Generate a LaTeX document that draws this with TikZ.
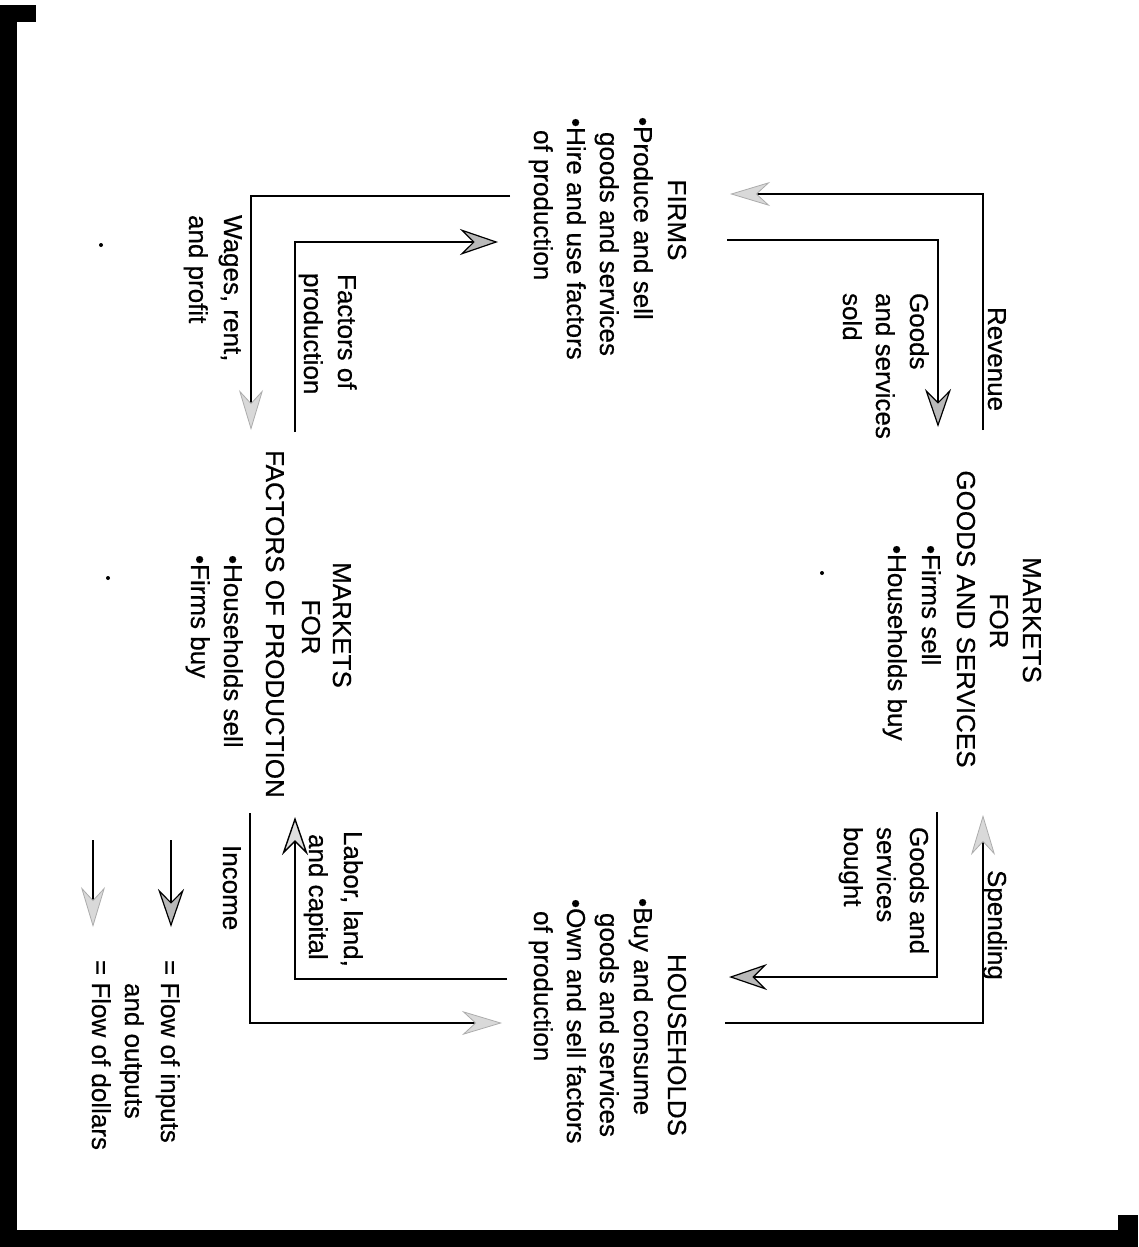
\documentclass[tikz,border=0pt]{standalone}
\usepackage{fontspec}
\setmainfont{Liberation Sans}[BoldFont={Liberation Sans},BoldFeatures={FakeBold=0.5}]
\usetikzlibrary{arrows.meta}
\tikzset{
  txt/.style={rotate=-90, inner sep=0pt, outer sep=0pt, font=\fontsize{26}{33}\selectfont\bfseries},
  flowline/.style={line width=2.8pt},
  inflow/.style={flowline, -{Stealth[length=38pt, width=26pt, inset=13pt, line width=1.2pt, fill=gray!55, color=black]}},
  inflowlight/.style={flowline, -{Stealth[length=38pt, width=26pt, inset=13pt, line width=1.4pt, fill=gray!25, color=black]}},
  dollarflow/.style={flowline, -{Stealth[length=40pt, width=24pt, inset=13pt, line width=0.8pt, fill=gray!30, color=gray!65]}},
  speck/.style={fill=black}
}
\begin{document}
\begin{tikzpicture}[x=1pt,y=-1pt]
\useasboundingbox (0,0) rectangle (1138,1247);
% frame
\fill (0,5) rectangle (36,22);
\fill (0,5) rectangle (17,1247);
\fill (0,1230) rectangle (1138,1247);
\fill (1118,1215) rectangle (1138,1247);

% FIRMS
\node[txt,anchor=base] (firms) at (668,220) {FIRMS};
\node[txt,anchor=base west] (firms1) at (634,117) {•Produce and sell};
\node[txt,anchor=base west] (firms2) at (600,132) {goods and services};
\node[txt,anchor=base west] (firms3) at (567,118) {•Hire and use factors};
\node[txt,anchor=base west] (firms4) at (534,130) {of production};

% HOUSEHOLDS
\node[txt,anchor=base] (hh) at (668,1045) {HOUSEHOLDS};
\node[txt,anchor=base west] (hh1) at (634,898) {•Buy and consume};
\node[txt,anchor=base west] (hh2) at (600,913) {goods and services};
\node[txt,anchor=base west] (hh3) at (567,899) {•Own and sell factors};
\node[txt,anchor=base west] (hh4) at (534,911) {of production};

% MARKETS FOR GOODS AND SERVICES
\node[txt,anchor=base] (mg1) at (1023,620) {MARKETS};
\node[txt,anchor=base] (mg2) at (990,621) {FOR};
\node[txt,anchor=base] (mg3) at (957,619) {GOODS AND SERVICES};
\node[txt,anchor=base west] (mg4) at (922,545) {•Firms sell};
\node[txt,anchor=base west] (mg5) at (888,545) {•Households buy};

% MARKETS FOR FACTORS OF PRODUCTION
\node[txt,anchor=base] (mf1) at (333,625) {MARKETS};
\node[txt,anchor=base] (mf2) at (302,627) {FOR};
\node[txt,anchor=base] (mf3) at (266,624) {FACTORS OF PRODUCTION};
\node[txt,anchor=base west] (mf4) at (224,555) {•Households sell};
\node[txt,anchor=base west] (mf5) at (191,555) {•Firms buy};

% flow labels
\node[txt,anchor=base west] (rev) at (988,307) {Revenue};
\node[txt,anchor=base west] (gss1) at (910,293) {Goods};
\node[txt,anchor=base west] (gss2) at (876,293) {and services};
\node[txt,anchor=base west] (gss3) at (843,293) {sold};
\node[txt,anchor=base west] (spend) at (988,870) {Spending};
\node[txt,anchor=base west] (gsb1) at (910,827) {Goods and};
\node[txt,anchor=base west] (gsb2) at (877,827) {services};
\node[txt,anchor=base west] (gsb3) at (844,827) {bought};
\node[txt,anchor=base west] (wag1) at (224,215) {Wages, rent,};
\node[txt,anchor=base west] (wag2) at (189,215) {and profit};
\node[txt,anchor=base west] (fop1) at (338,274) {Factors of};
\node[txt,anchor=base west] (fop2) at (304,273) {production};
\node[txt,anchor=base west] (inc) at (223,845) {Income};
\node[txt,anchor=base west] (lab1) at (344,831) {Labor, land,};
\node[txt,anchor=base west] (lab2) at (309,834) {and capital};

% legend
\node[txt,anchor=base west] (leg1) at (161,960) {= Flow of inputs};
\node[txt,anchor=base west] (leg2) at (125,983) {and outputs};
\node[txt,anchor=base west] (leg3) at (92,960) {= Flow of dollars};

% connector end points
\coordinate (revS) at (983,430);
\coordinate (revE) at (730,194);
\coordinate (gssS) at (727,240);
\coordinate (gssE) at (938,427);
\coordinate (spS) at (725,1023);
\coordinate (spE) at (983,815);
\coordinate (gsbS) at (937,812);
\coordinate (gsbE) at (729,977);
\coordinate (wagS) at (510,196);
\coordinate (wagE) at (251,430);
\coordinate (fopS) at (295,432);
\coordinate (fopE) at (498,242);
\coordinate (incS) at (250,813);
\coordinate (incE) at (502,1023);
\coordinate (labS) at (507,979);
\coordinate (labE) at (295,817);
\coordinate (legAS) at (171,840);
\coordinate (legAE) at (171,927);
\coordinate (legBS) at (93,840);
\coordinate (legBE) at (93,927);

% connectors
\draw[dollarflow] (revS) |- (revE);
\draw[inflow] (gssS) -| (gssE);
\draw[dollarflow] (spS) -| (spE);
\draw[inflow] (gsbS) |- (gsbE);
\draw[dollarflow] (wagS) -| (wagE);
\draw[inflow] (fopS) |- (fopE);
\draw[dollarflow] (incS) |- (incE);
\draw[inflowlight] (labS) -| (labE);
\draw[inflow] (legAS) -- (legAE);
\draw[dollarflow] (legBS) -- (legBE);

% specks
\fill[speck] (101,245) circle (2pt);
\fill[speck] (108,578) circle (2pt);
\fill[speck] (822,573) circle (2pt);
\end{tikzpicture}
\end{document}
